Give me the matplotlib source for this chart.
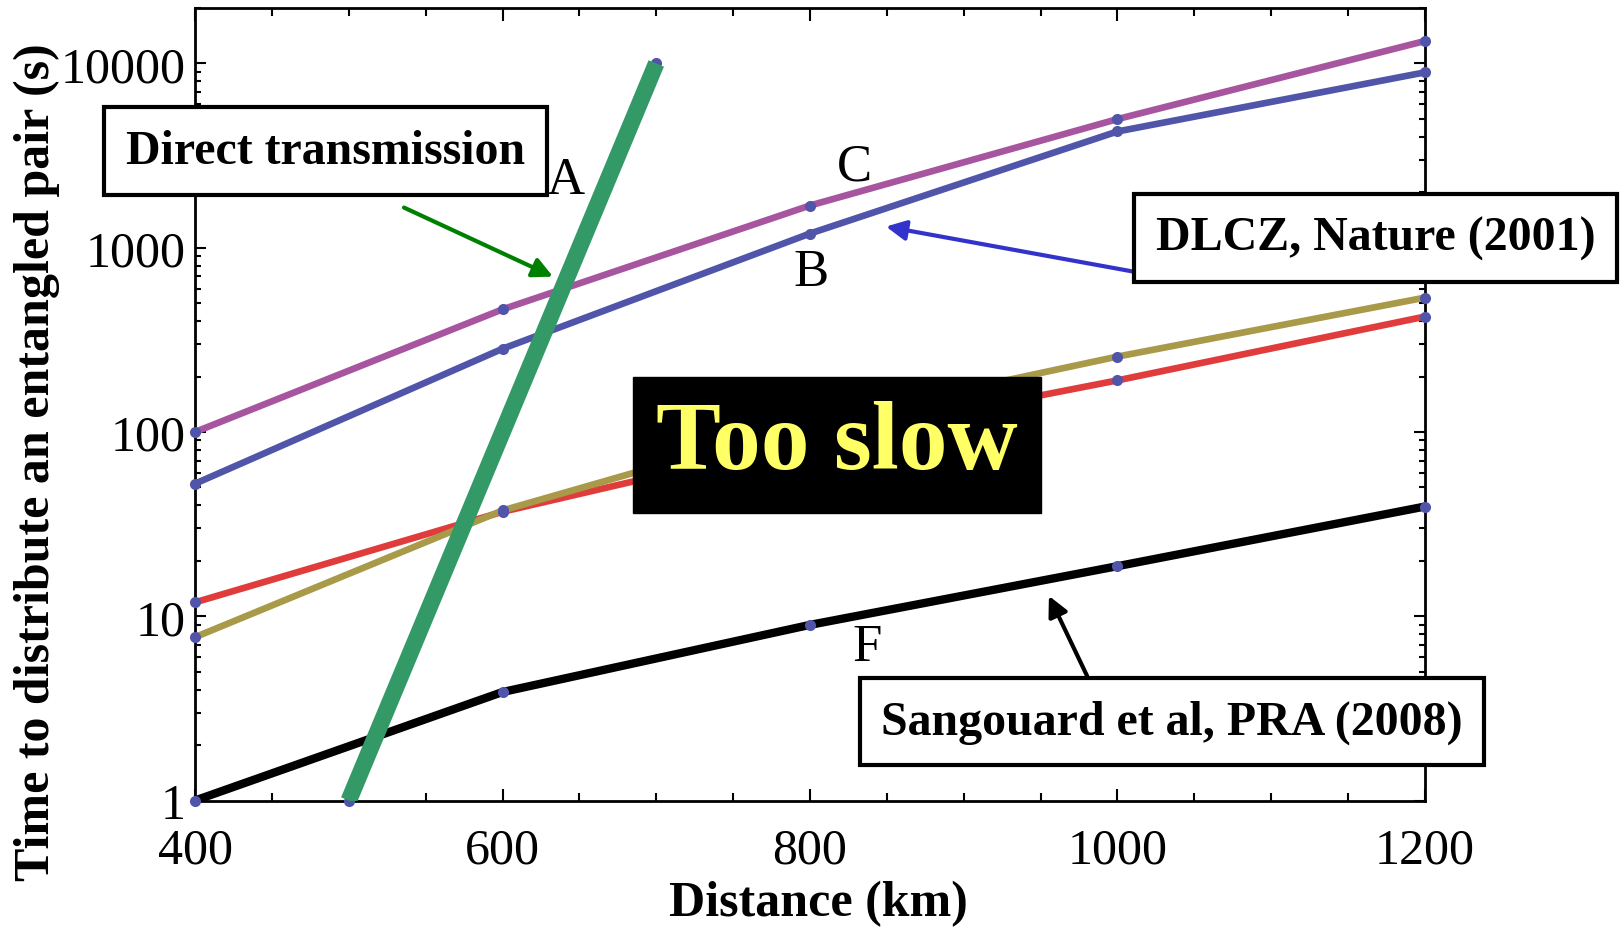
import numpy as np
import matplotlib.pyplot as plt
from matplotlib.ticker import FixedLocator, MultipleLocator, LogLocator, NullFormatter, FuncFormatter

plt.rcParams['font.family'] = ['Liberation Serif', 'DejaVu Serif']

# data
distance = [400, 600, 800, 1000, 1200]
curve_c = [100, 463, 1695, 4990, 13240]
curve_b = [52.4, 283, 1194, 4275, 8950]
curve_red = [11.9, 36.9, 90, 190.6, 423]
curve_olive = [7.7, 37.5, 113, 256.6, 536]
curve_f = [1.0, 3.88, 8.98, 18.7, 39.4]
direct_km = [500, 600, 700]
direct_time = [1, 100, 10000]

x_ticks = [400, 600, 800, 1000, 1200]
y_ticks = [1, 10, 100, 1000, 10000]

dot = '#5055AA'

fig = plt.figure(figsize=(16.2, 9.28), dpi=100)
ax = fig.add_axes([0.1204, 0.1363, 0.7592, 0.854])

series = [
    (curve_c, '#A855A0', 4.8),
    (curve_b, '#5055AA', 4.8),
    (curve_red, '#E03C3C', 4.8),
    (curve_olive, '#A89A48', 4.8),
    (curve_f, 'black', 6),
]
for vals, col, lw in series:
    ax.plot(distance, vals, color=col, lw=lw, zorder=2, solid_capstyle='butt')
    ax.plot(distance, vals, 'o', ms=8, color=dot, mec='none', zorder=3, clip_on=False)

ax.plot(direct_km, direct_time, color='#339966', lw=12, zorder=4, solid_capstyle='butt')
ax.plot(direct_km, direct_time, 'o', ms=8, color=dot, mec='none', zorder=3, clip_on=False)

ax.set_yscale('log')
ax.set_xlim(400, 1200)
ax.set_ylim(1, 20000)

ax.xaxis.set_major_locator(FixedLocator(x_ticks))
ax.xaxis.set_minor_locator(MultipleLocator(50))
ax.yaxis.set_major_locator(FixedLocator(y_ticks))
ax.yaxis.set_major_formatter(FuncFormatter(lambda v, p: f'{v:g}'))
ax.yaxis.set_minor_locator(LogLocator(base=10, subs=np.arange(2, 10)))
ax.yaxis.set_minor_formatter(NullFormatter())

ax.tick_params(which='both', direction='in', top=True, right=True, width=1.5, labelsize=36)
ax.tick_params(axis='x', which='major', length=9, pad=19)
ax.tick_params(axis='x', which='minor', length=6)
ax.tick_params(axis='y', which='major', length=8, pad=7)
ax.tick_params(axis='y', which='minor', length=4)
for sp in ax.spines.values():
    sp.set_linewidth(2)

ax.set_xlabel('Distance (km)', fontsize=36, fontweight='bold', va='center')
ax.xaxis.set_label_coords(0.507, -0.13)
ax.set_ylabel('Time to distribute an entangled pair (s)', fontsize=36, fontweight='bold', va='center')
ax.yaxis.set_label_coords(-0.129, 0.428)

# curve letters
ax.text(640.7, 2321, 'A', fontsize=38, ha='center', va='center', zorder=6)
ax.text(828.6, 2766, 'C', fontsize=38, ha='center', va='center', zorder=6)
ax.text(800.7, 743, 'B', fontsize=38, ha='center', va='center', zorder=6)
ax.text(837.1, 6.82, 'F', fontsize=38, ha='center', va='center', zorder=6)

box = dict(boxstyle='square,pad=0.45', fc='white', ec='black', lw=3)
ax.text(484.9, 3350, 'Direct transmission', fontsize=34.5, fontweight='bold',
        ha='center', va='center', bbox=box, zorder=7, clip_on=False)
ax.text(1167.8, 1130, 'DLCZ, Nature (2001)', fontsize=34.5, fontweight='bold',
        ha='center', va='center', bbox=box, zorder=7, clip_on=False)
ax.text(1035.4, 2.69, 'Sangouard et al, PRA (2008)', fontsize=34.5, fontweight='bold',
        ha='center', va='center', bbox=box, zorder=7, clip_on=False)
ax.text(817.6, 85.3, 'Too slow', fontsize=70, fontweight='bold', color='#FFFF66',
        ha='center', va='center', zorder=6,
        bbox=dict(boxstyle='square,pad=0.24', fc='black', ec='black'))

# arrows
ax.annotate('', xy=(632.8, 697), xytext=(535.9, 1652),
            arrowprops=dict(arrowstyle='-|>', color='#008000', lw=3, mutation_scale=30,
                            shrinkA=0, shrinkB=0), zorder=6)
ax.annotate('', xy=(849.4, 1303), xytext=(1010, 743),
            arrowprops=dict(arrowstyle='-|>', color='#3333CC', lw=3, mutation_scale=30,
                            shrinkA=0, shrinkB=0), zorder=6)
ax.annotate('', xy=(955.4, 12.9), xytext=(980.2, 4.75),
            arrowprops=dict(arrowstyle='-|>', color='black', lw=3, mutation_scale=30,
                            shrinkA=0, shrinkB=0), zorder=6)

fig.savefig('out.png', dpi=100)
